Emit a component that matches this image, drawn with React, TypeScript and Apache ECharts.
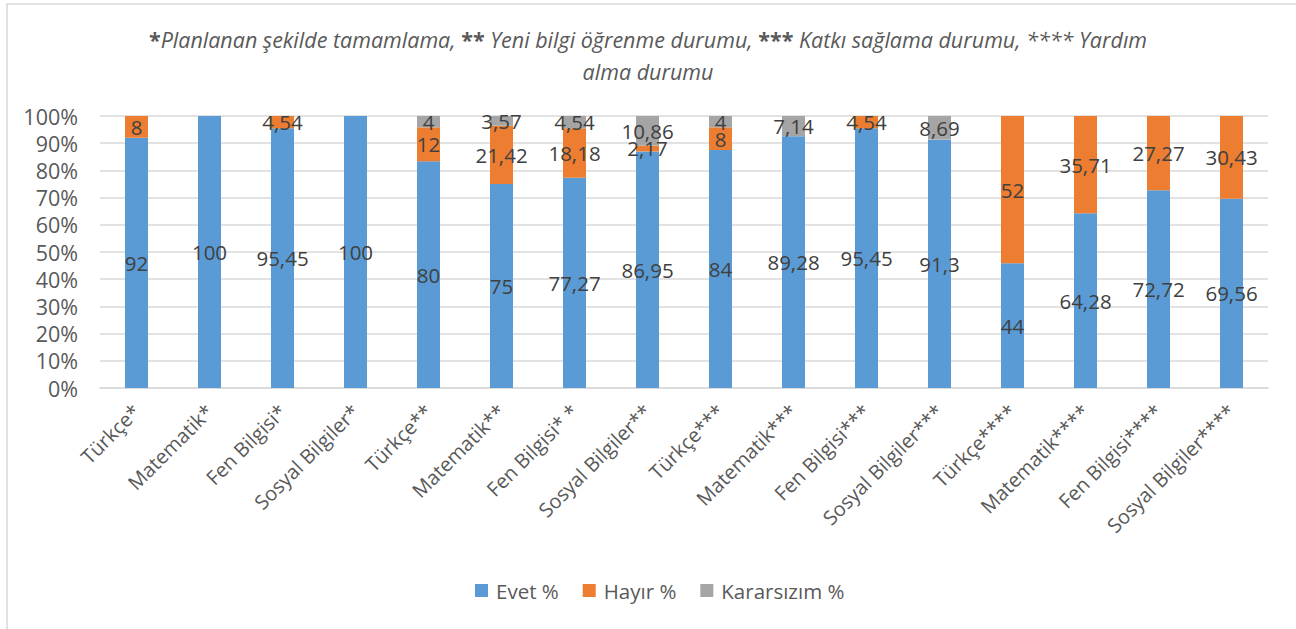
import React, { useEffect, useRef } from "react";
import * as echarts from "echarts";

const categories = [
  "Türkçe*", "Matematik*", "Fen Bilgisi*", "Sosyal Bilgiler*",
  "Türkçe**", "Matematik**", "Fen Bilgisi* *", "Sosyal Bilgiler**",
  "Türkçe***", "Matematik***", "Fen Bilgisi***", "Sosyal Bilgiler***",
  "Türkçe****", "Matematik****", "Fen Bilgisi****", "Sosyal Bilgiler****",
];
const evet = [92, 100, 95.45, 100, 80, 75, 77.27, 86.95, 84, 89.28, 95.45, 91.3, 44, 64.28, 72.72, 69.56];
const hayir = [8, 0, 4.54, 0, 12, 21.42, 18.18, 2.17, 8, 0, 4.54, 0, 52, 35.71, 27.27, 30.43];
const kararsiz = [0, 0, 0, 0, 4, 3.57, 4.54, 10.86, 4, 7.14, 0, 8.69, 0, 0, 0, 0];
const seriesNames = ["Evet %", "Hayır %", "Kararsızım %"];
const yTicks = [0, 10, 20, 30, 40, 50, 60, 70, 80, 90, 100];

const FONT = "'Open Sans', 'Noto Sans', sans-serif";

export default function App() {
  const ref = useRef<HTMLDivElement>(null);
  useEffect(() => {
    if (!ref.current) return;
    const chart = echarts.init(ref.current, undefined, { renderer: "svg" });
    const totals = categories.map((_, i) => evet[i] + hayir[i] + kararsiz[i]);
    const mk = (arr: number[]) =>
      arr.map((v, i) => ({ value: (v / totals[i]) * 100, raw: v }));
    const colors = ["#5B9BD5", "#ED7D31", "#A5A5A5"];
    const all = [evet, hayir, kararsiz];
    chart.setOption({
      animation: false,
      textStyle: { fontFamily: FONT },
      title: {
        left: "center",
        top: 23,
        padding: 0,
        text:
          "{b|*}{i|Planlanan şekilde tamamlama, }{b|**}{i| Yeni bilgi öğrenme durumu, }{b|***}{i| Katkı sağlama durumu, **** Yardım}\n{i|alma durumu}",
        textStyle: {
          fontWeight: "normal",
          rich: {
            b: { fontSize: 21.5, fontWeight: "bold", fontStyle: "normal", color: "#595959", fontFamily: FONT, lineHeight: 32 },
            i: { fontSize: 21.5, fontWeight: "normal", fontStyle: "italic", color: "#595959", fontFamily: FONT, lineHeight: 32 },
          },
        },
      },
      graphic: [
        {
          type: "rect",
          shape: { x: 7, y: 4, width: 1400, height: 800 },
          style: { fill: "none", stroke: "#d9d9d9", lineWidth: 1.5 },
          silent: true,
        },
      ],
      legend: {
        bottom: 23,
        left: 470,
        itemWidth: 13,
        itemHeight: 13,
        itemGap: 24,
        icon: "rect",
        textStyle: { fontSize: 20.5, color: "#595959", fontFamily: FONT, padding: [0, 0, 0, 3] },
        data: seriesNames,
      },
      grid: { left: 100, right: 28, top: 116, bottom: 241, containLabel: false },
      xAxis: {
        type: "category",
        data: categories,
        axisTick: { show: false },
        axisLine: { lineStyle: { color: "#d9d9d9", width: 1.5 } },
        axisLabel: { rotate: 45, fontSize: 20, color: "#595959", margin: 20, interval: 0, fontFamily: FONT },
      },
      yAxis: {
        type: "value",
        min: yTicks[0],
        max: yTicks[yTicks.length - 1],
        interval: 10,
        axisLine: { show: false },
        axisTick: { show: false },
        splitLine: { lineStyle: { color: "#d9d9d9", width: 1.5 } },
        axisLabel: { formatter: "{value}%", fontSize: 21.5, color: "#595959", margin: 22, fontFamily: FONT },
      },
      series: seriesNames.map((name, k) => ({
        name,
        type: "bar",
        stack: "total",
        barWidth: 23,
        itemStyle: { color: colors[k] },
        label: {
          show: true,
          position: "inside",
          fontSize: 20.5,
          color: "#404040",
          fontFamily: FONT,
          formatter: (p: any) => (p.data.raw ? String(p.data.raw).replace(".", ",") : ""),
        },
        labelLayout: { hideOverlap: false },
        data: mk(all[k]),
      })),
    });
    return () => chart.dispose();
  }, []);
  return (
    <div
      ref={ref}
      style={{ position: "absolute", left: 0, top: 0, width: 1296, height: 629, background: "#fff" }}
    />
  );
}
